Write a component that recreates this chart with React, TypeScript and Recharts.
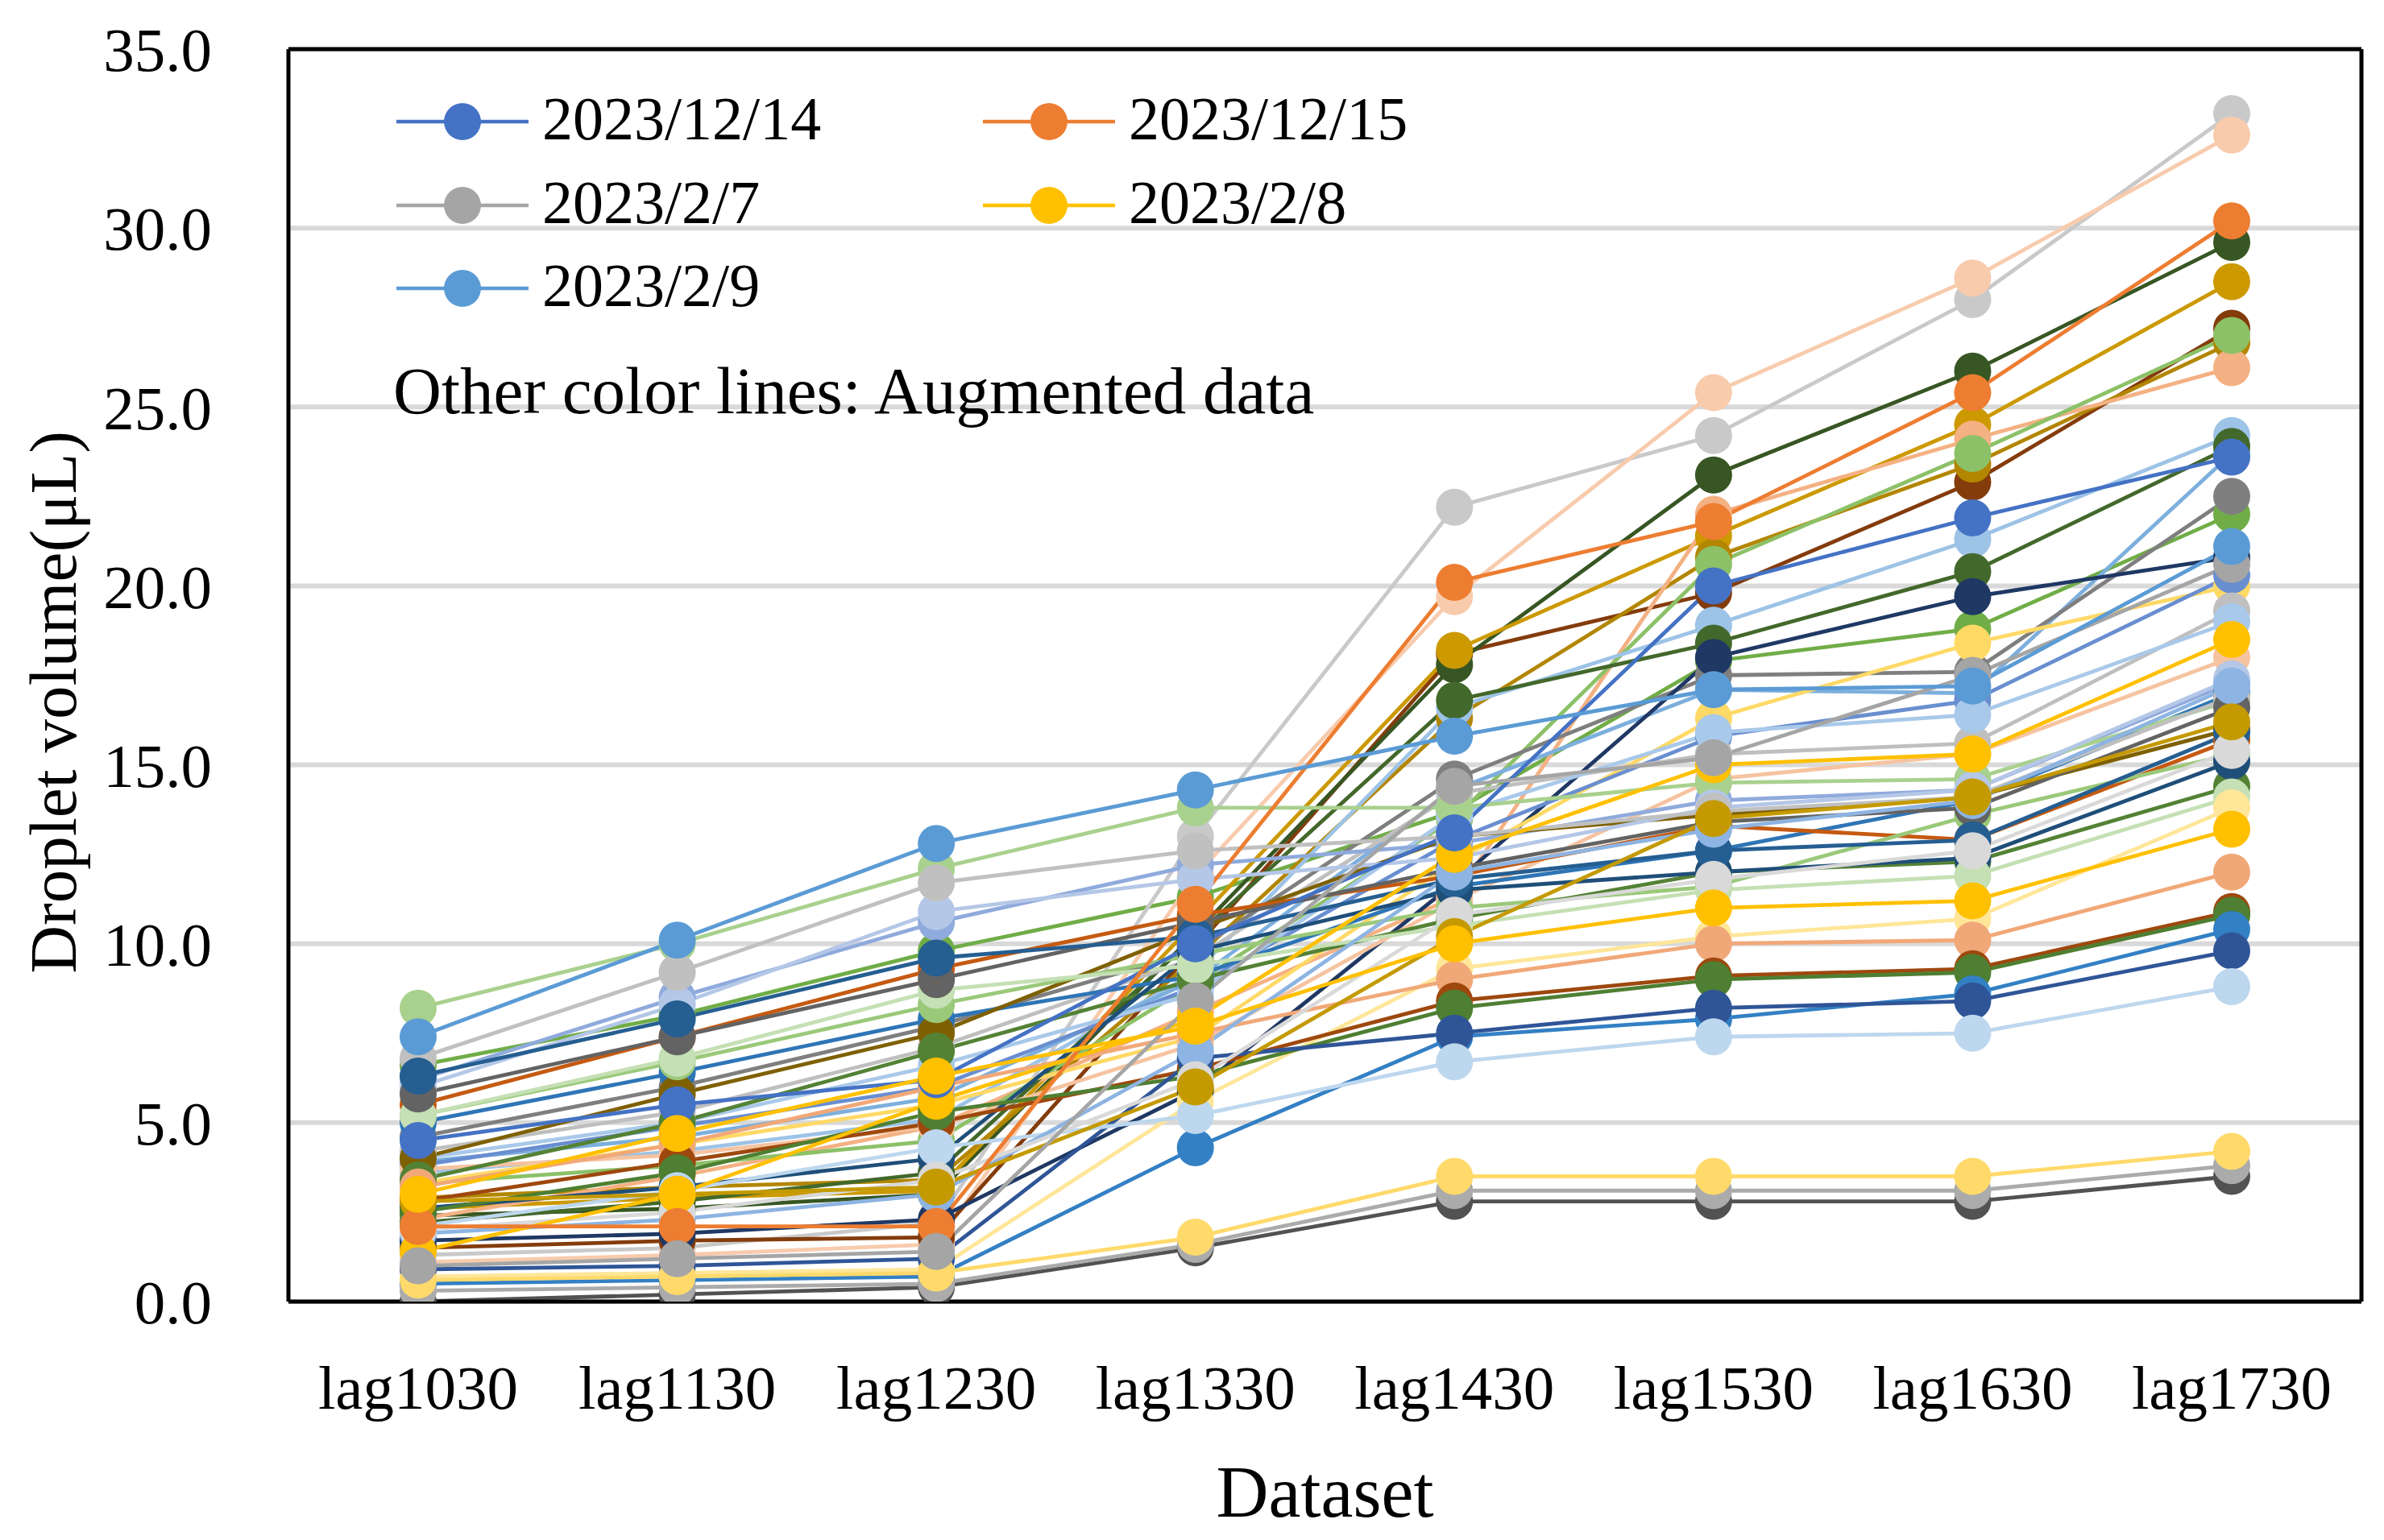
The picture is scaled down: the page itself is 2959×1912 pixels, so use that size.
import React from 'react';
import { LineChart, Line, XAxis, YAxis, CartesianGrid } from 'recharts';

const categories = ['lag1030', 'lag1130', 'lag1230', 'lag1330', 'lag1430', 'lag1530', 'lag1630', 'lag1730'];
const yTicks = [0, 5, 10, 15, 20, 25, 30, 35];

const mainNames = ['2023/12/14', '2023/12/15', '2023/2/7', '2023/2/8', '2023/2/9'];
const mainColors = ['#4472C4', '#ED7D31', '#A5A5A5', '#FFC000', '#5B9BD5'];
const v20231214 = [4.5, 5.5, 6.2, 10.0, 13.1, 20.0, 21.9, 23.6];
const v20231215 = [2.1, 2.1, 2.1, 11.1, 20.1, 21.8, 25.4, 30.2];
const v202327 = [1.0, 1.2, 1.4, 8.4, 14.4, 15.2, 17.5, 20.6];
const v202328 = [3.0, 4.7, 6.3, 7.7, 10.0, 11.0, 11.2, 13.2];
const v202329 = [7.4, 10.1, 12.8, 14.3, 15.8, 17.1, 17.2, 21.1];
const mainValues = [v20231214, v20231215, v202327, v202328, v202329];

const augmentedColors = [
  '#70AD47', '#C9C9C9', '#F8CBAD', '#843C0C', '#375623', '#CC9900', '#B38600', '#F4B183',
  '#8CC168', '#9DC3E6', '#7CAFDD', '#43682B', '#7F7F7F', '#1F3864', '#FFD966', '#698ED0',
  '#BFBFBF', '#A9C9EA', '#F6C3A0', '#8FAADC', '#2E75B6', '#A9D18E', '#7F6000', '#C55A11',
  '#9BC97A', '#548235', '#1F4E79', '#C5E0B4', '#FFE699', '#F1A878', '#9E480E', '#4E7F32',
  '#3380C4', '#2F5597', '#BDD7EE', '#B4C7E7', '#C0C0C0', '#636363', '#255E91', '#8DB4E2',
  '#D9D9D9', '#C49A00', '#FFC000', '#525252', '#ABABAB', '#FFDA6B',
];
const augmentedValues = [
  [6.6, 8.0, 9.8, 11.3, 13.7, 17.9, 18.8, 22.0],
  [1.3, 1.5, 2.2, 13.0, 22.2, 24.2, 28.0, 33.2],
  [1.1, 1.3, 1.6, 11.9, 19.7, 25.4, 28.6, 32.6],
  [1.5, 1.7, 1.8, 9.9, 18.1, 19.8, 22.9, 27.2],
  [2.4, 2.6, 3.0, 10.3, 17.8, 23.1, 26.0, 29.6],
  [2.6, 2.9, 3.1, 10.6, 18.2, 21.4, 24.5, 28.5],
  [2.9, 3.2, 3.4, 9.6, 16.3, 20.8, 23.4, 26.8],
  [2.3, 3.5, 4.9, 8.1, 11.3, 22.0, 24.1, 26.1],
  [3.3, 3.8, 4.5, 8.9, 13.5, 20.6, 23.7, 27.0],
  [3.6, 4.2, 5.1, 9.2, 16.6, 18.9, 21.3, 24.2],
  [3.9, 4.6, 5.7, 9.0, 14.3, 17.1, 17.0, 23.7],
  [2.2, 2.8, 3.6, 10.2, 16.8, 18.4, 20.4, 23.9],
  [4.6, 6.0, 7.7, 9.8, 14.6, 17.5, 17.6, 22.5],
  [1.7, 1.9, 2.3, 5.9, 11.7, 18.0, 19.7, 20.8],
  [3.3, 4.4, 5.5, 7.4, 12.3, 16.3, 18.4, 20.0],
  [3.8, 4.9, 6.0, 8.8, 12.9, 15.8, 16.8, 20.3],
  [4.2, 5.3, 7.1, 9.6, 14.2, 15.3, 15.6, 19.3],
  [4.0, 5.0, 6.6, 8.6, 13.6, 15.9, 16.4, 19.0],
  [3.7, 4.1, 4.9, 7.2, 11.2, 14.6, 15.3, 18.0],
  [6.2, 8.5, 10.6, 12.2, 12.8, 14.0, 14.3, 17.3],
  [5.0, 6.4, 7.9, 9.1, 11.6, 12.6, 14.0, 17.0],
  [8.2, 10.0, 12.1, 13.8, 13.8, 14.5, 14.6, 16.8],
  [4.0, 5.8, 7.5, 10.4, 13.0, 13.6, 14.1, 16.0],
  [5.5, 7.4, 9.3, 10.8, 11.9, 13.3, 12.9, 15.7],
  [5.2, 6.7, 8.3, 9.7, 11.0, 11.6, 13.6, 15.3],
  [3.4, 5.0, 7.0, 9.0, 10.7, 12.0, 12.3, 14.4],
  [2.6, 3.2, 4.0, 9.8, 11.5, 12.0, 12.4, 15.1],
  [5.2, 6.8, 8.7, 9.4, 10.5, 11.5, 11.9, 14.1],
  [0.7, 0.8, 0.9, 5.6, 9.3, 10.2, 10.7, 13.8],
  [3.2, 4.4, 6.0, 7.5, 9.0, 10.0, 10.1, 12.0],
  [2.8, 3.9, 5.0, 6.5, 8.4, 9.1, 9.3, 10.9],
  [2.5, 3.6, 5.3, 6.3, 8.2, 9.0, 9.2, 10.8],
  [0.5, 0.6, 0.7, 4.3, 7.4, 7.9, 8.6, 10.4],
  [0.9, 1.0, 1.2, 6.8, 7.5, 8.2, 8.4, 9.8],
  [2.1, 3.1, 4.3, 5.2, 6.7, 7.4, 7.5, 8.8],
  [6.0, 8.3, 10.9, 11.8, 12.4, 13.8, 14.3, 17.4],
  [6.8, 9.2, 11.7, 12.6, 13.0, 13.7, 14.1, 16.9],
  [5.8, 7.4, 9.0, 10.6, 12.1, 13.4, 13.8, 16.6],
  [6.3, 7.9, 9.6, 10.2, 11.8, 12.6, 12.9, 15.9],
  [1.9, 2.3, 3.0, 7.0, 12.0, 13.2, 14.0, 17.2],
  [2.0, 2.5, 3.4, 6.2, 10.8, 11.8, 12.6, 15.4],
  [2.8, 3.0, 3.2, 6.0, 10.2, 13.5, 14.1, 16.2],
  [1.4, 3.0, 5.6, 7.9, 12.5, 15.0, 15.3, 18.5],
  [0.0, 0.2, 0.4, 1.5, 2.8, 2.8, 2.8, 3.5],
  [0.3, 0.4, 0.5, 1.6, 3.1, 3.1, 3.1, 3.8],
  [0.6, 0.7, 0.8, 1.8, 3.5, 3.5, 3.5, 4.2],
];

const annotation = 'Other color lines: Augmented data';
const yTitle = 'Droplet volume(μL)';
const xTitle = 'Dataset';

// augmented series drawn first, the five measured series on top
const allColors = [...augmentedColors, ...mainColors];
const allValues = [...augmentedValues, ...mainValues];

const data = categories.map((c, i) => {
  const row: Record<string, any> = { name: c };
  allValues.forEach((vals, s) => {
    row['s' + s] = vals[i];
  });
  return row;
});

const FONT = '"Liberation Serif", "Times New Roman", serif';
const W = 2943;
const H = 1896;

const YTitle = () => {
  const cx = 58;
  const cy = 864;
  return (
    <text x={cx} y={cy} transform={`rotate(-90 ${cx} ${cy})`} textAnchor="middle" dominantBaseline="central"
      fontFamily={FONT} fontSize={83} fill="#000">{yTitle}</text>
  );
};

const XTitle = (props: any) => {
  const { viewBox } = props;
  const cx = viewBox.x + viewBox.width / 2;
  return (
    <text x={cx} y={1875} textAnchor="middle" fontFamily={FONT} fontSize={90} fill="#000">{xTitle}</text>
  );
};

const legendPos = [
  { x: 566, y: 143 },
  { x: 1294, y: 143 },
  { x: 566, y: 247 },
  { x: 1294, y: 247 },
  { x: 566, y: 350 },
];

const Overlay = () => (
  <svg width={W} height={H} style={{ position: 'absolute', left: 0, top: 0, pointerEvents: 'none' }}>
    {mainNames.map((n, i) => {
      const p = legendPos[i];
      return (
        <g key={n}>
          <line x1={p.x - 82} x2={p.x + 82} y1={p.y} y2={p.y} stroke={mainColors[i]} strokeWidth={4.5} />
          <circle cx={p.x} cy={p.y} r={23} fill={mainColors[i]} />
          <text x={p.x + 99} y={p.y + 22} fontFamily={FONT} fontSize={76} fill="#000">{n}</text>
        </g>
      );
    })}
    <text x={480} y={505} fontFamily={FONT} fontSize={83} fill="#000">{annotation}</text>
  </svg>
);

export default function App() {
  return (
    <div style={{ position: 'relative', width: W, height: H, background: '#fff' }}>
      <LineChart width={W} height={H} data={data} margin={{ top: 52, right: 19, bottom: 0, left: 0 }}>
        <CartesianGrid horizontal vertical={false} stroke="#D9D9D9" strokeWidth={6} />
        <XAxis
          dataKey="name"
          height={288}
          padding={{ left: 161, right: 161 }}
          axisLine={{ stroke: '#000', strokeWidth: 5 }}
          tickLine={false}
          tickSize={0}
          tickMargin={78}
          tick={{ fontFamily: FONT, fontSize: 77, fill: '#000' }}
          interval={0}
          label={<XTitle />}
        />
        <XAxis
          xAxisId="top"
          orientation="top"
          dataKey="name"
          height={1}
          padding={{ left: 161, right: 161 }}
          axisLine={{ stroke: '#000', strokeWidth: 5 }}
          tickLine={false}
          tick={false}
        />
        <YAxis
          width={350}
          domain={[0, 35]}
          ticks={yTicks}
          allowDataOverflow
          axisLine={{ stroke: '#000', strokeWidth: 5 }}
          tickLine={false}
          tickSize={0}
          tickMargin={95}
          tickFormatter={(v: number) => v.toFixed(1)}
          tick={{ fontFamily: FONT, fontSize: 77, fill: '#000' }}
          label={<YTitle />}
        />
        <YAxis
          yAxisId="right"
          orientation="right"
          width={1}
          domain={[0, 35]}
          ticks={yTicks}
          axisLine={{ stroke: '#000', strokeWidth: 5 }}
          tickLine={false}
          tick={false}
        />
        {allValues.map((_, s) => (
          <Line
            key={s}
            type="linear"
            dataKey={'s' + s}
            stroke={allColors[s]}
            strokeWidth={4.8}
            dot={{ r: 23, fill: allColors[s], stroke: 'none', strokeWidth: 0 }}
            activeDot={false}
            isAnimationActive={false}
          />
        ))}
      </LineChart>
      <Overlay />
    </div>
  );
}
